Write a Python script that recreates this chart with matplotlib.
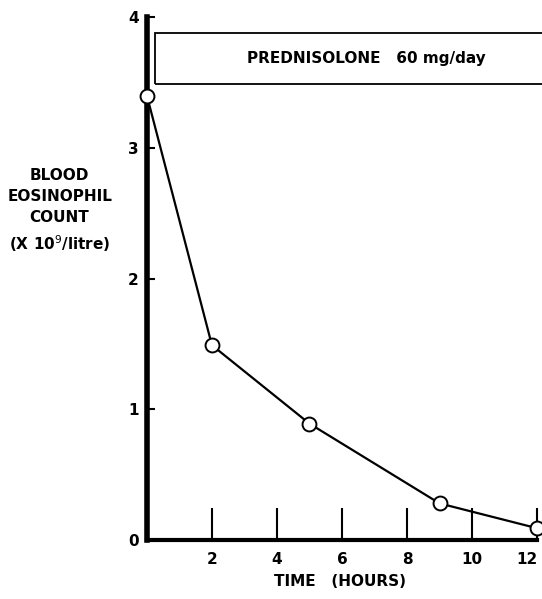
import matplotlib.pyplot as plt
from matplotlib.patches import Rectangle

plt.rcParams['font.family'] = ['Liberation Sans Narrow', 'DejaVu Sans']

hours = [0, 2, 5, 9, 12]
eosinophils = [3.4, 1.49, 0.89, 0.28, 0.09]
xticks = [2, 4, 6, 8, 10, 12]
yticks = [0, 1, 2, 3, 4]

fig = plt.figure(figsize=(5.42, 5.99), dpi=100)
ax = fig.add_axes([0.271, 0.0985, 0.72, 0.873])

ax.plot(hours, eosinophils, color='black', lw=1.6, marker='o', ms=10,
        mfc='white', mec='black', mew=1.4, clip_on=False, zorder=5)

ax.set_xlim(0, 12)
ax.set_ylim(0, 4)
for s in ['top', 'right']:
    ax.spines[s].set_visible(False)
ax.spines['left'].set_linewidth(4)
ax.spines['bottom'].set_linewidth(3)

ax.set_xticks(xticks)
ax.set_yticks(yticks)
ax.tick_params(axis='x', direction='in', length=23, width=1.5, pad=9,
               labelsize=11)
ax.tick_params(axis='y', direction='in', length=6, width=1.5, pad=6,
               labelsize=11)
for lab in ax.get_xticklabels() + ax.get_yticklabels():
    lab.set_fontweight('bold')
# last label sits at the right edge, keep it inside the figure
ax.get_xticklabels()[-1].set_horizontalalignment('right')

# treatment bar
ax.add_patch(Rectangle((0.25, 3.49), 12.5, 0.39, fill=False, ec='black',
                       lw=1.3, clip_on=False))
ax.text(6.74, 3.685, 'PREDNISOLONE   60 mg/day', ha='center', va='center',
        fontsize=11, fontweight='bold')

fig.text(0.627, 0.017, 'TIME   (HOURS)', ha='center', va='bottom',
         fontsize=11, fontweight='bold')
fig.text(0.11, 0.647, 'BLOOD\nEOSINOPHIL\nCOUNT\n(X 10$^{9}$/litre)',
         ha='center', va='center', fontsize=11, fontweight='bold',
         linespacing=1.5)

fig.savefig('out.png', dpi=100)
